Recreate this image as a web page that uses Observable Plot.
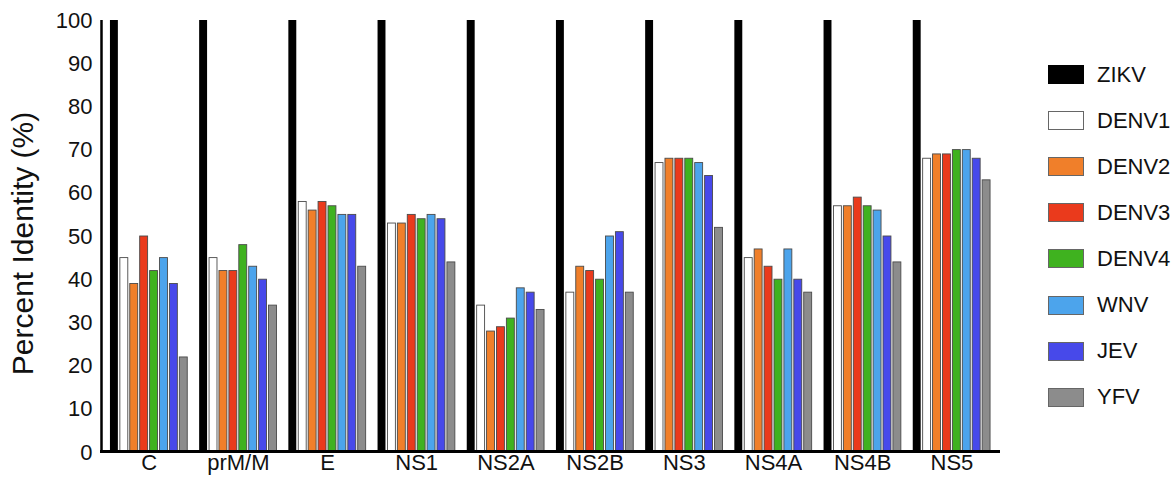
<!DOCTYPE html>
<html><head><meta charset="utf-8">
<script src="https://cdn.jsdelivr.net/npm/d3@7"></script>
<script src="https://cdn.jsdelivr.net/npm/@observablehq/plot@0.6"></script>
<style>
html,body{margin:0;padding:0;background:#fff;}
#wrap{position:relative;width:1174px;height:483px;overflow:hidden;font-family:"Liberation Sans",Arial,Helvetica,sans-serif;}
#wrap svg{position:absolute;left:0;top:0;}
.sw{position:absolute;box-sizing:border-box;}
.lb{position:absolute;font-size:22px;color:#111;line-height:22px;}
</style></head><body><div id="wrap"></div>
<script>
// ---- data ----
const genes = ["C","prM/M","E","NS1","NS2A","NS2B","NS3","NS4A","NS4B","NS5"];
const viruses = ["ZIKV","DENV1","DENV2","DENV3","DENV4","WNV","JEV","YFV"];
const colors = ["#000000","#ffffff","#f07f2a","#ea3a1c","#3fb21f","#4ca4ec","#4749ea","#8c8c8c"];
const yTicks = [0,10,20,30,40,50,60,70,80,90,100];
const ZIKV  = [100,100,100,100,100,100,100,100,100,100];
const DENV1 = [45,45,58,53,34,37,67,45,57,68];
const DENV2 = [39,42,56,53,28,43,68,47,57,69];
const DENV3 = [50,42,58,55,29,42,68,43,59,69];
const DENV4 = [42,48,57,54,31,40,68,40,57,70];
const WNV   = [45,43,55,55,38,50,67,47,56,70];
const JEV   = [39,40,55,54,37,51,64,40,50,68];
const YFV   = [22,34,43,44,33,37,52,37,44,63];
const yTitle = "Percent Identity (%)";

const series = {ZIKV, DENV1, DENV2, DENV3, DENV4, WNV, JEV, YFV};
const rows = genes.flatMap((g, i) => viruses.map(v => ({gene: g, virus: v, value: series[v][i]})));

const W = 1174, H = 483;
const font = '"Liberation Sans",Arial,Helvetica,sans-serif';

const main = Plot.plot({
  width: W, height: H, marginLeft: 100, marginRight: 182, marginTop: 20, marginBottom: 31,
  style: {background: "transparent", fontFamily: font, overflow: "visible"},
  fx: {domain: genes, paddingInner: 0, paddingOuter: 0, round: false, axis: null, label: null},
  x: {domain: viruses, paddingInner: 0.2, paddingOuter: 0.6, round: false, axis: null},
  y: {domain: [0, 100], axis: null},
  color: {domain: viruses, range: colors},
  marks: [
    Plot.barY(rows, {filter: d => d.virus === "ZIKV", fx: "gene", x: "virus", y: "value", fill: "virus", dx: 4}),
    Plot.barY(rows, {filter: d => d.virus !== "ZIKV", fx: "gene", x: "virus", y: "value", fill: "virus", stroke: "#4a4a4a", strokeWidth: 0.9, dx: 4}),
    Plot.text(genes, {fx: d => d, text: d => d, frameAnchor: "bottom", dy: 17, dx: 4, fontSize: 22, fill: "#111"})
  ]
});

const axes = Plot.plot({
  width: W, height: H, marginLeft: 100, marginRight: 174, marginTop: 20, marginBottom: 31,
  style: {background: "transparent", fontFamily: font, fontSize: "22px", overflow: "visible"},
  x: {domain: [0, 1], axis: null},
  y: {domain: [0, 100], axis: null},
  marks: [
    Plot.axisY({ticks: yTicks, tickSize: 0, tickPadding: 8, label: null, fill: "#111"}),
    Plot.text([yTitle], {text: d => d, frameAnchor: "left", textAnchor: "middle", rotate: -90, dx: -77, dy: 7, fontSize: 30, fill: "#111"}),
    Plot.ruleX([0], {stroke: "#000", strokeWidth: 2.5, dx: 1}),
    Plot.ruleY([0], {stroke: "#000", strokeWidth: 3, dy: -1})
  ]
});

const wrap = document.getElementById("wrap");
wrap.appendChild(main);
wrap.appendChild(axes);

// legend
viruses.forEach((v, i) => {
  const cy = 74.5 + i * 46.1;
  const sw = document.createElement("div");
  sw.className = "sw";
  sw.style.left = "1048px";
  sw.style.top = (cy - 9.5) + "px";
  sw.style.width = "36px";
  sw.style.height = "19px";
  sw.style.background = colors[i];
  sw.style.border = "1.5px solid " + (v === "ZIKV" ? "#000" : "#666");
  wrap.appendChild(sw);
  const lb = document.createElement("div");
  lb.className = "lb";
  lb.style.left = "1097px";
  lb.style.top = (cy - 11) + "px";
  lb.textContent = v;
  wrap.appendChild(lb);
});
</script>
</body></html>
